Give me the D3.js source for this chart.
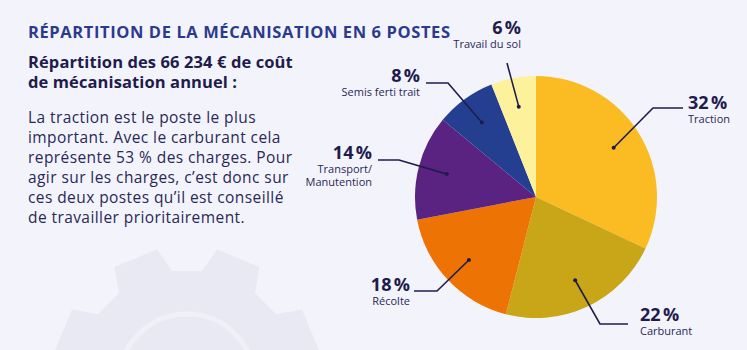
<!DOCTYPE html>
<html>
<head>
<meta charset="utf-8">
<script src="https://cdn.jsdelivr.net/npm/d3@7"></script>
<style>
  html, body { margin: 0; padding: 0; background: #f3f4fb; }
  svg { display: block; font-family: "Open Sans", sans-serif; }
</style>
</head>
<body>
<div id="content"></div>
<script>
// data
const postes = ["Traction", "Carburant", "Récolte", "Transport/Manutention", "Semis ferti trait", "Travail du sol"];
const parts = [32, 22, 18, 14, 8, 6];
const couleurs = ["#fbbb22", "#c8a617", "#ed7305", "#5a2381", "#243f8f", "#fef19c"];

const titre = "RÉPARTITION DE LA MÉCANISATION EN 6 POSTES";
const sousTitre = ["Répartition des 66 234 € de coût", "de mécanisation annuel :"];
const texte = [
  "La traction est le poste le plus",
  "important. Avec le carburant cela",
  "représente 53 % des charges. Pour",
  "agir sur les charges, c’est donc sur",
  "ces deux postes qu’il est conseillé",
  "de travailler prioritairement."
];

// label layout (relative to pie centre): elbow, end of line, text anchor
const labelLayout = [
  { elbow: [117, -89], end: [147, -89], tx: 152, ty: -88, anchor: "start" },
  { elbow: [64, 127], end: [92, 127], tx: 104, ty: 124, anchor: "start" },
  { elbow: [-99, 94], end: [-122, 94], tx: -126, ty: 94, anchor: "end" },
  { elbow: [-137, -37], end: [-158, -37], tx: -164, ty: -38, anchor: "end" },
  { elbow: [-88, -114], end: [-110, -114], tx: -116, ty: -115, anchor: "end" },
  { elbow: [-29, -134], end: [-29, -134], tx: -15, ty: -163, anchor: "end" }
];

const width = 747, height = 350;
const cx = 536, cy = 197, radius = 121;
const ink = "#1f1c4d";

const svg = d3.select("#content").append("svg")
  .attr("width", width).attr("height", height);

svg.append("rect").attr("width", width).attr("height", height).attr("fill", "#f3f4fb");

// background gear
const gc = [187, 382];
const teeth = 8, rOut = 136, rIn = 112;
const gearPts = [];
for (let i = 0; i < teeth; i++) {
  const a0 = (i * 2 * Math.PI) / teeth + Math.PI / 8;
  const w = 0.17, s = 0.26;
  gearPts.push([a0 - s, rIn], [a0 - w, rOut], [a0 + w, rOut], [a0 + s, rIn]);
}
const gearLine = d3.lineRadial().angle((d) => d[0]).radius((d) => d[1]).curve(d3.curveLinearClosed);
const gear = svg.append("g").attr("transform", `translate(${gc[0]},${gc[1]})`);
gear.append("path").attr("d", gearLine(gearPts)).attr("fill", "#e9e9f4");
gear.append("circle").attr("r", 68).attr("fill", "none").attr("stroke", "#eff0f8").attr("stroke-width", 5);

// title + text
svg.append("text").attr("x", 28).attr("y", 38)
  .attr("font-size", 16.5).attr("font-weight", 700).attr("fill", "#2c3a8d")
  .attr("letter-spacing", 0.6)
  .text(titre);

svg.append("g").selectAll("text").data(sousTitre).join("text")
  .attr("x", 28).attr("y", (d, i) => 68 + i * 20)
  .attr("font-size", 16.5).attr("font-weight", 700).attr("fill", ink)
  .attr("letter-spacing", 0.1)
  .text((d) => d);

svg.append("g").selectAll("text").data(texte).join("text")
  .attr("x", 28).attr("y", (d, i) => 123 + i * 20)
  .attr("font-size", 15.5).attr("fill", "#2a2857")
  .attr("letter-spacing", 0.42)
  .text((d) => d);

// pie
const pie = d3.pie().sort(null).value((d) => d.value);
const arcs = pie(parts.map((v, i) => ({ value: v, name: postes[i], color: couleurs[i] })));
const arc = d3.arc().innerRadius(0).outerRadius(radius);
const dotArc = d3.arc().innerRadius(92).outerRadius(92);

const g = svg.append("g").attr("transform", `translate(${cx},${cy})`);

g.selectAll("path.slice").data(arcs).join("path")
  .attr("class", "slice")
  .attr("d", arc)
  .attr("fill", (d) => d.data.color);

// leader lines
g.selectAll("path.leader").data(arcs).join("path")
  .attr("class", "leader")
  .attr("fill", "none").attr("stroke", ink).attr("stroke-width", 1.6)
  .attr("d", (d, i) => d3.line()([dotArc.centroid(d), labelLayout[i].elbow, labelLayout[i].end]));

g.selectAll("circle.dot").data(arcs).join("circle")
  .attr("class", "dot")
  .attr("r", 2).attr("fill", ink)
  .attr("cx", (d) => dotArc.centroid(d)[0])
  .attr("cy", (d) => dotArc.centroid(d)[1]);

// labels
const labels = g.selectAll("g.label").data(arcs).join("g")
  .attr("class", "label")
  .attr("transform", (d, i) => `translate(${labelLayout[i].tx},${labelLayout[i].ty})`)
  .attr("text-anchor", (d, i) => labelLayout[i].anchor);

labels.append("text")
  .attr("font-size", 18).attr("font-weight", 700).attr("fill", ink)
  .text((d) => `${d.data.value}\u202f%`);

labels.each(function (d) {
  const lines = d.data.name.includes("/") ? ["Transport/", "Manutention"] : [d.data.name];
  d3.select(this).selectAll("text.sub").data(lines).join("text")
    .attr("class", "sub")
    .attr("y", (l, i) => 14 + i * 13)
    .attr("font-size", 11).attr("fill", "#2a2857")
    .text((l) => l);
});
</script>
</body>
</html>
